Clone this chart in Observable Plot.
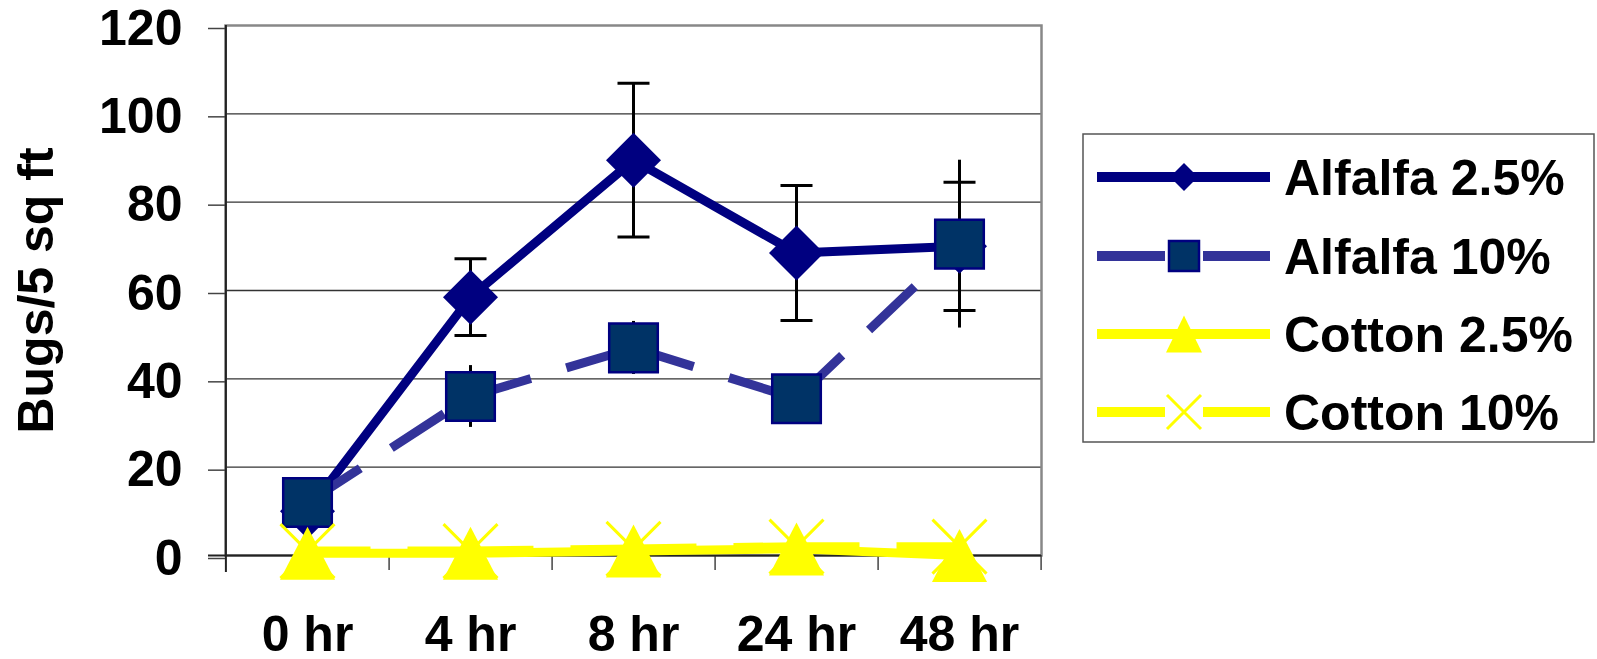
<!DOCTYPE html>
<html><head><meta charset="utf-8">
<script src="https://cdn.jsdelivr.net/npm/d3@7"></script>
<script src="https://cdn.jsdelivr.net/npm/@observablehq/plot@0.6"></script>
<style>
body{margin:0;background:#fff;}
#chart{width:1597px;height:659px;}
</style>
</head><body><div id="chart"></div>
<script>
// ---- data ----
const categories = ["0 hr", "4 hr", "8 hr", "24 hr", "48 hr"];
const seriesNames = ["Alfalfa 2.5%", "Alfalfa 10%", "Cotton 2.5%", "Cotton 10%"];
const alfalfa25 = [10, 58.5, 89.5, 68.5, 70];
const alfalfa25Err = [3, 8.7, 17.4, 15.3, 14.5];
const alfalfa10 = [12, 36, 47, 35.5, 70.5];
const alfalfa10Err = [3, 7, 6, 5, 19];
const cotton25 = [0.5, 0.5, 1, 1.5, 0];
const cotton10 = [1, 1, 1.5, 2, 2];
const yTicks = [0, 20, 40, 60, 80, 100, 120];
const yTitle = "Bugs/5 sq ft";

// ---- layout ----
const W = 1597, H = 659;
const plotLeft = 225, plotRight = 1041, plotTop = 25, plotBottom = 555;
const half = (plotRight - plotLeft) / categories.length / 2;
const FONT = "'Liberation Sans', Arial, Helvetica, sans-serif";

// ---- symbols ----
const diamondSym = h => ({draw(c){c.moveTo(0,-h);c.lineTo(h,0);c.lineTo(0,h);c.lineTo(-h,0);c.closePath();}});
const squareSym = h => ({draw(c){c.moveTo(-h,-h);c.lineTo(h,-h);c.lineTo(h,h);c.lineTo(-h,h);c.closePath();}});
const triSym = (w,h) => ({draw(c){c.moveTo(0,-h);c.lineTo(w,h);c.lineTo(-w,h);c.closePath();}});
const timesSym = h => ({draw(c){c.moveTo(-h,-h);c.lineTo(h,h);c.moveTo(h,-h);c.lineTo(-h,h);}});
const capSym = h => ({draw(c){c.moveTo(-h,0);c.lineTo(h,0);}});

const DASH = "63,37";
const styles = {
  "Alfalfa 2.5%": {stroke: "#000080", width: 9, dash: null, mk: s => diamondSym(s ? 14 : 27.5), fill: "#000080", mstroke: "none", msw: 0},
  "Alfalfa 10%": {stroke: "#333399", width: 9, dash: DASH, mk: s => squareSym(s ? 15 : 24.3), fill: "#003366", mstroke: "#000080", msw: 2.5},
  "Cotton 2.5%": {stroke: "#FFFF00", width: 9, dash: null, mk: s => triSym(s ? 18 : 27.5, s ? 18.5 : 26.5), fill: "#FFFF00", mstroke: "none", msw: 0},
  "Cotton 10%": {stroke: "#FFFF00", width: 9, dash: DASH, mk: s => timesSym(s ? 17 : 27), fill: "none", mstroke: "#FFFF00", msw: 3}
};
const values = {"Alfalfa 2.5%": alfalfa25, "Alfalfa 10%": alfalfa10, "Cotton 2.5%": cotton25, "Cotton 10%": cotton10};
const errs = {"Alfalfa 2.5%": alfalfa25Err, "Alfalfa 10%": alfalfa10Err};

const pts = s => categories.map((c, i) => ({x: c, y: values[s][i], e: errs[s] ? errs[s][i] : 0}));
const segs = s => categories.slice(0, -1).map((c, i) => ({x1: c, y1: values[s][i], x2: categories[i+1], y2: values[s][i+1]}));

const lineMarks = seriesNames.map(s => {
  const st = styles[s];
  if (st.dash) return Plot.link(segs(s), {x1: "x1", y1: "y1", x2: "x2", y2: "y2", stroke: st.stroke, strokeWidth: st.width, strokeDasharray: st.dash});
  return Plot.line(pts(s), {x: "x", y: "y", stroke: st.stroke, strokeWidth: st.width, strokeLinejoin: "round"});
});
const markerMarks = seriesNames.map(s => {
  const st = styles[s];
  return Plot.dot(pts(s), {x: "x", y: "y", symbol: st.mk(false), fill: st.fill, stroke: st.mstroke, strokeWidth: st.msw});
});

const errA25 = pts("Alfalfa 2.5%"), errA10 = pts("Alfalfa 10%");

const chart = Plot.plot({
  width: W, height: H,
  marginLeft: plotLeft, marginRight: W - plotRight, marginTop: plotTop, marginBottom: H - plotBottom,
  style: {fontFamily: FONT, fontSize: "50px", fontWeight: "bold", color: "#000", background: "#fff", overflow: "visible"},
  x: {type: "point", domain: categories, padding: 0.5},
  y: {domain: [0, 120]},
  marks: [
    Plot.ruleY(yTicks.slice(1, -1), {stroke: "#333", strokeWidth: 1.3}),
    Plot.frame({stroke: "#888", strokeWidth: 2.5}),
    // category boundary ticks below the axis
    Plot.ruleX(categories, {x: d => d, y1: 0, y2: 0, dx: half, insetBottom: -15, stroke: "#444", strokeWidth: 1.5}),
    // left axis line and y ticks
    Plot.ruleX([categories[0]], {x: d => d, dx: -half, insetBottom: -17, stroke: "#222", strokeWidth: 2}),
    Plot.ruleY([0], {insetLeft: -17, stroke: "#222", strokeWidth: 2}),
    Plot.axisY(yTicks, {tickSize: 17, tickPadding: 26, fontSize: 50, fontWeight: "bold", label: null, stroke: "#444", strokeWidth: 1.5, dy: 3}),
    Plot.axisX({tickSize: 0, tickPadding: 60, fontSize: 50, fontWeight: "bold", label: null}),
    Plot.text([yTitle], {text: d => d, frameAnchor: "left", rotate: -90, dx: -189, fontSize: 50, fontWeight: "bold", textAnchor: "middle", lineAnchor: "middle"}),
    // error bars
    Plot.ruleX(errA25, {x: "x", y1: d => d.y - d.e, y2: d => d.y + d.e, stroke: "#000", strokeWidth: 3}),
    Plot.ruleX(errA10, {x: "x", y1: d => d.y - d.e, y2: d => d.y + d.e, stroke: "#000", strokeWidth: 3}),
    Plot.dot(errA25, {x: "x", y: d => d.y + d.e, symbol: capSym(16), stroke: "#000", strokeWidth: 3}),
    Plot.dot(errA25, {x: "x", y: d => d.y - d.e, symbol: capSym(16), stroke: "#000", strokeWidth: 3}),
    ...lineMarks,
    ...markerMarks
  ]
});
document.getElementById("chart").appendChild(chart);

// ---- legend ----
const svg = d3.select(chart);
const lg = svg.append("g").attr("font-family", FONT).attr("font-weight", "bold").attr("font-size", 50).attr("text-anchor", "start");
lg.append("rect").attr("x", 1083).attr("y", 134).attr("width", 1594 - 1083).attr("height", 442 - 134)
  .attr("fill", "#fff").attr("stroke", "#555").attr("stroke-width", 1.5);
const rowY = [177, 256, 334, 412];
seriesNames.forEach((s, i) => {
  const st = styles[s], y = rowY[i];
  lg.append("line").attr("x1", 1097).attr("x2", 1270).attr("y1", y).attr("y2", y)
    .attr("stroke", st.stroke).attr("stroke-width", 10).attr("stroke-dasharray", st.dash ? "68,38" : null);
  lg.append("path").attr("d", d3.symbol(st.mk(true))()).attr("transform", `translate(1184,${y})`)
    .attr("fill", st.fill).attr("stroke", st.mstroke).attr("stroke-width", st.msw);
  lg.append("text").attr("x", 1284).attr("y", y + 18).attr("fill", "#000").attr("text-anchor", "start").text(s);
});
</script>
</body></html>
